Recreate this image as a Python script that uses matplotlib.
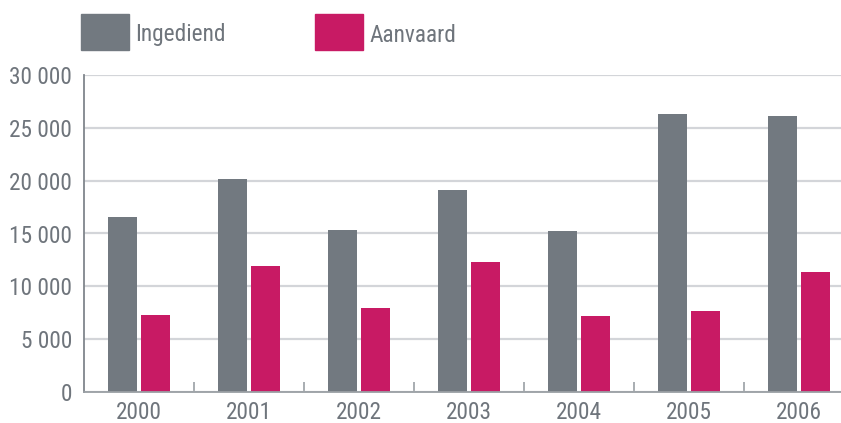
import matplotlib
matplotlib.use("Agg")
import matplotlib.pyplot as plt
from matplotlib.patches import Rectangle
import numpy as np

# data
years = ["2000", "2001", "2002", "2003", "2004", "2005", "2006"]
ingediend = [16600, 20200, 15300, 19100, 15200, 26300, 26100]
aanvaard = [7300, 11900, 7950, 12300, 7200, 7650, 11350]
yticks = [0, 5000, 10000, 15000, 20000, 25000, 30000]
series_labels = ["Ingediend", "Aanvaard"]

GRAY = "#727980"
PINK = "#C81A64"
TEXT = "#6F757C"

plt.rcParams["font.family"] = ["Roboto Condensed", "Lato", "DejaVu Sans"]
FS = 16.8

W, H = 841, 423
fig = plt.figure(figsize=(W / 100, H / 100), dpi=100)
ax = fig.add_axes([84 / W, 1 - 392 / H, 1 - 84 / W, (392 - 75) / H])

x = np.arange(len(years))
bw = 0.272
ax.bar(x - 0.15, ingediend, width=bw, color=GRAY, zorder=3)
ax.bar(x + 0.15, aanvaard, width=bw, color=PINK, zorder=3)

ax.set_xlim(-0.5, -0.5 + (841 - 84) / 110.0)
ax.set_ylim(0, 30000)

ax.set_yticks(yticks)
ax.set_yticklabels([f"{v:,}".replace(",", " ") for v in yticks])
ax.set_xticks(x)
ax.set_xticklabels(years)
ax.set_xticks(x[:-1] + 0.5, minor=True)

ax.tick_params(axis="y", length=0, pad=8.5, labelsize=FS, labelcolor=TEXT)
ax.tick_params(axis="x", which="major", length=0, pad=6.5, labelsize=FS, labelcolor=TEXT)
ax.tick_params(axis="x", which="minor", direction="in", length=7, width=1.2, color="#9A9FA4")

ax.grid(axis="y", color="#D3D5D9", linewidth=1.6, zorder=0)
for s in ["top", "right"]:
    ax.spines[s].set_visible(False)
ax.spines["left"].set_color("#80868C")
ax.spines["left"].set_linewidth(1.3)
ax.spines["bottom"].set_color("#9A9FA4")
ax.spines["bottom"].set_linewidth(1.3)
ax.spines["bottom"].set_zorder(4)

# legend drawn by hand at the top
for (px, col, lab) in [(81, GRAY, series_labels[0]), (315, PINK, series_labels[1])]:
    fig.add_artist(Rectangle((px / W, 1 - 50 / H), 48 / W, 36 / H,
                             transform=fig.transFigure, color=col))
    fig.text((px + 54) / W, 1 - 35 / H, lab, fontsize=FS, color=TEXT,
             va="center", ha="left")

fig.savefig("out.png", dpi=100)
